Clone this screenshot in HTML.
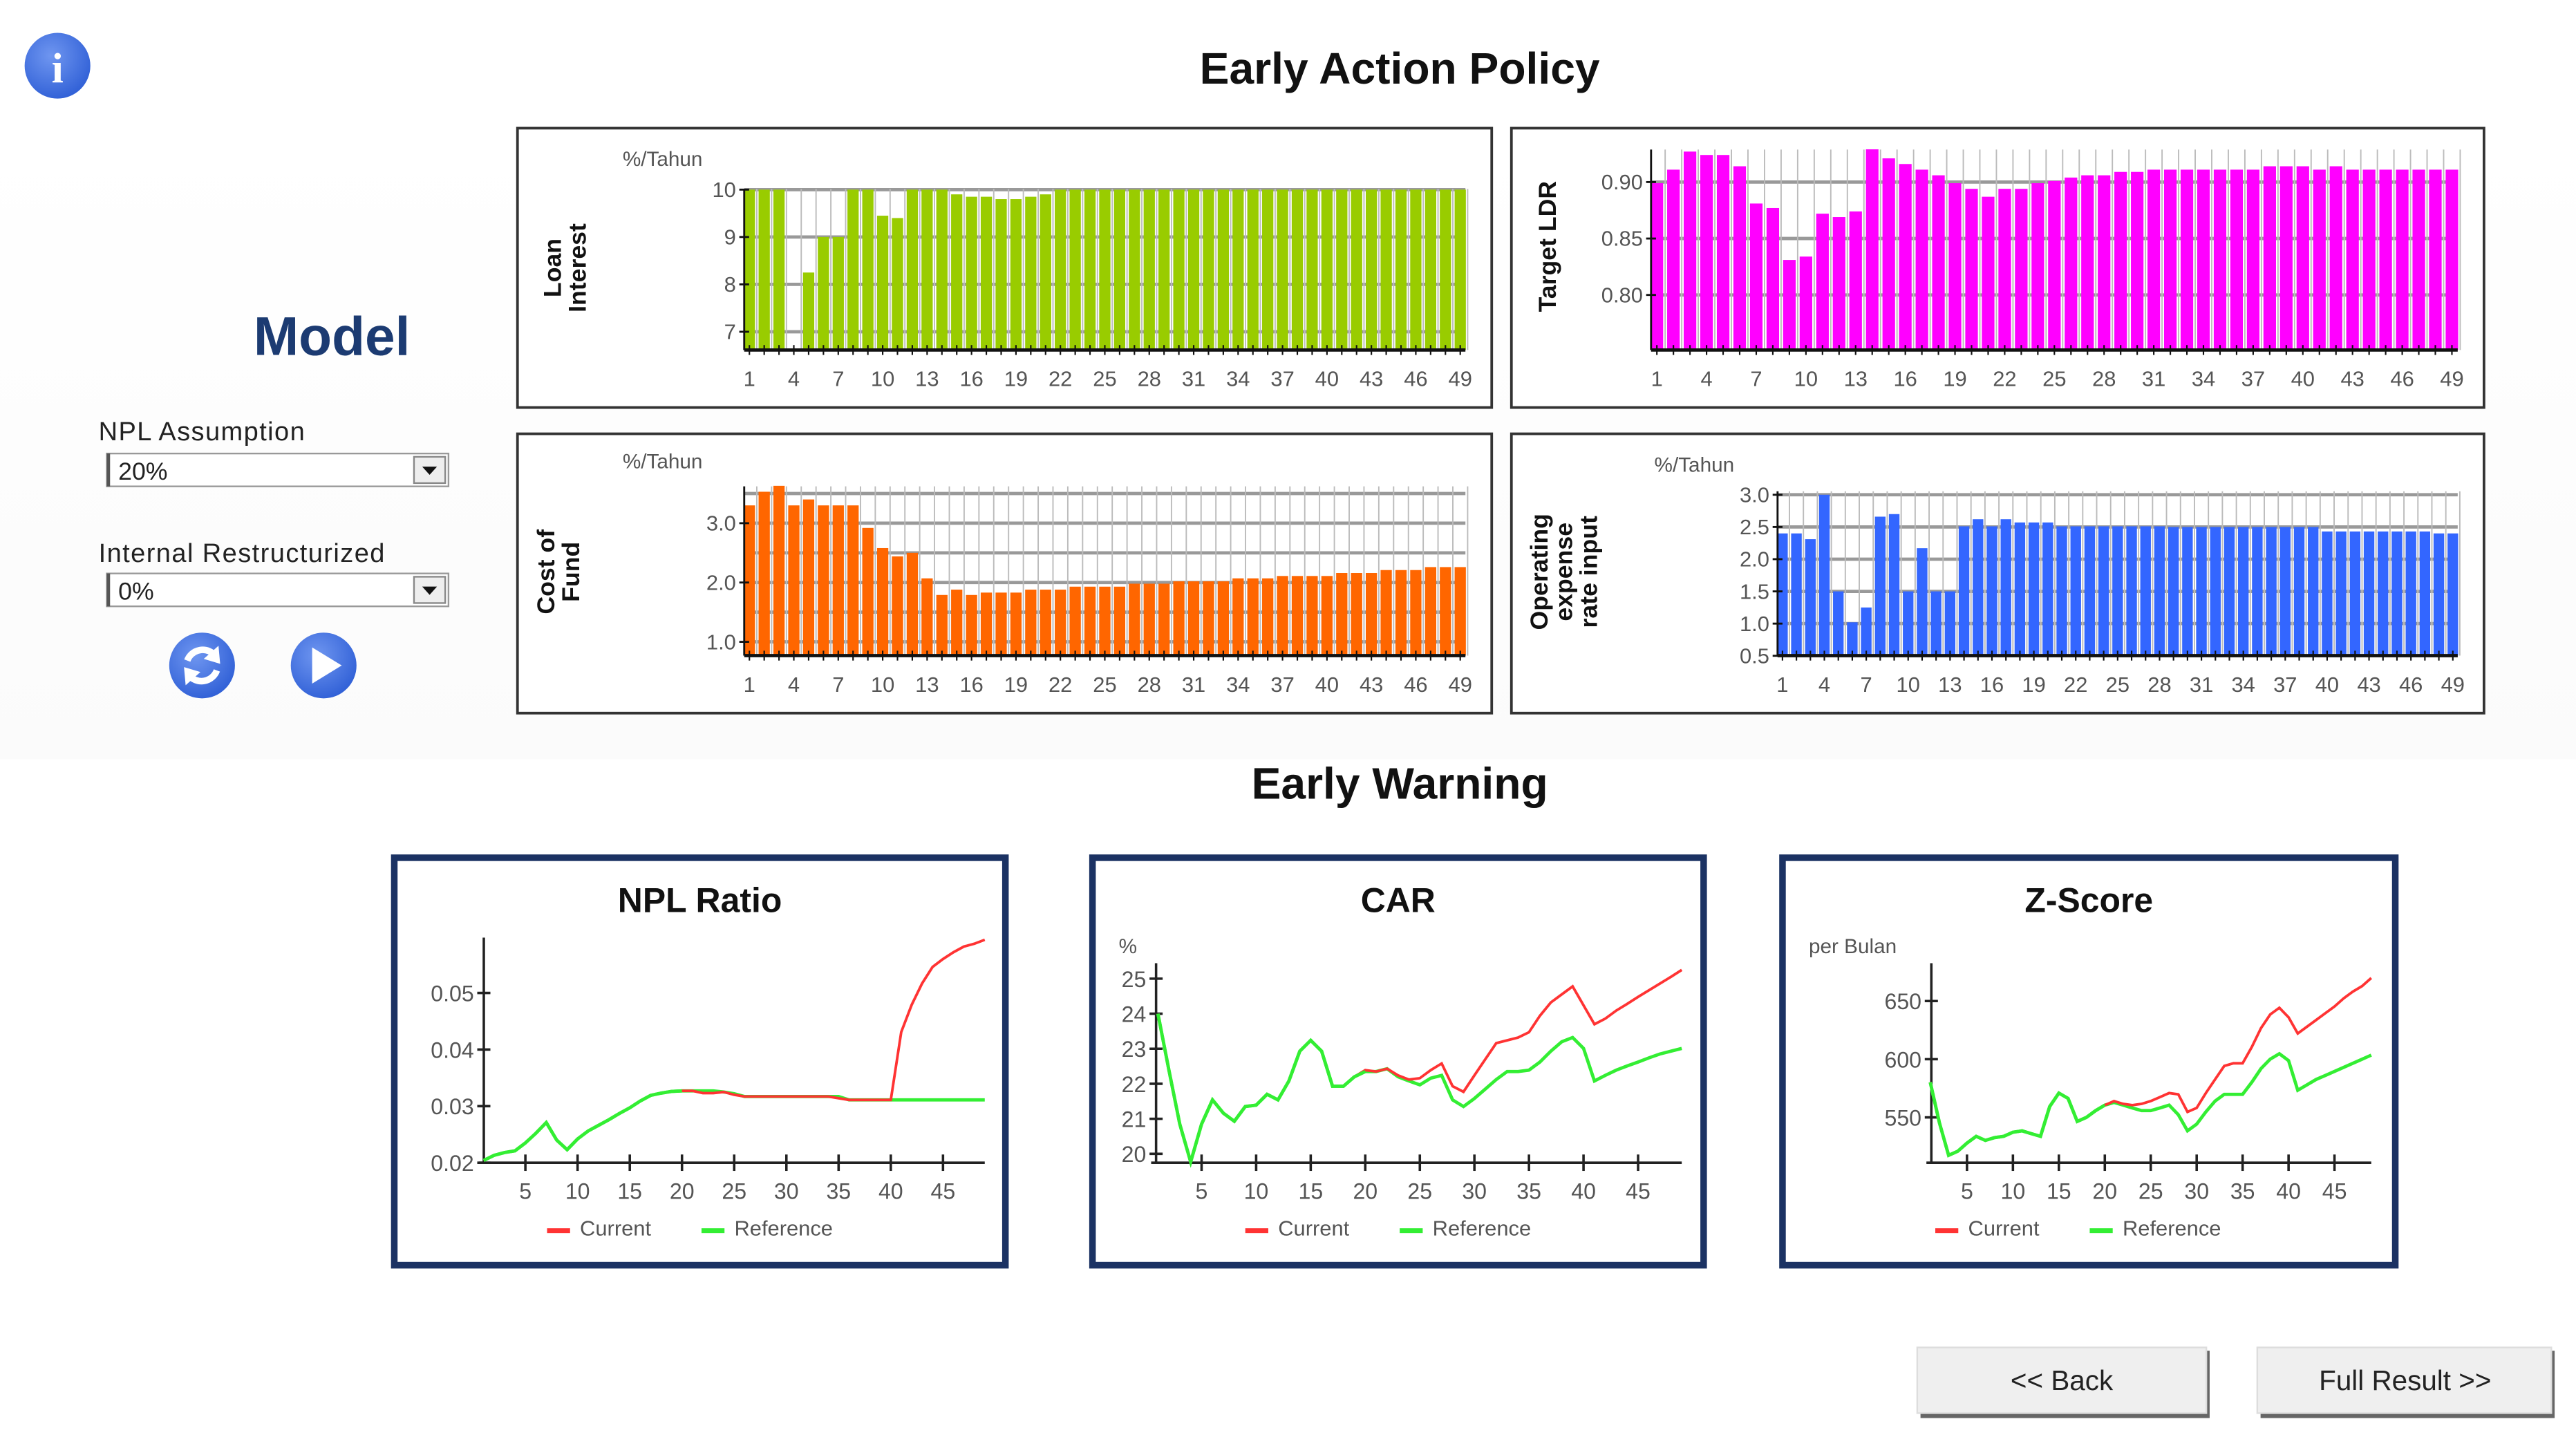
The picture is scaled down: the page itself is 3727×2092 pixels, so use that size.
<!DOCTYPE html>
<html><head><meta charset="utf-8"><title>Early Action Policy</title>
<style>
html,body{margin:0;padding:0;background:#fff;}
svg{display:block;font-family:"Liberation Sans",sans-serif;}
</style></head>
<body>
<svg id="root" width="3727" height="2092" viewBox="0 0 1568 880" preserveAspectRatio="none" xmlns="http://www.w3.org/2000/svg">
<defs>
<radialGradient id="btnG" cx="40%" cy="35%" r="70%"><stop offset="0" stop-color="#6f96f0"/><stop offset="1" stop-color="#2f5fd6"/></radialGradient>
<linearGradient id="panelBg" x1="0" y1="0" x2="0" y2="1"><stop offset="0" stop-color="#ffffff"/><stop offset="1" stop-color="#fbfbfb"/></linearGradient>
</defs>
<rect x="0" y="0" width="1568" height="880" fill="#ffffff"/>
<rect x="0" y="82" width="1568" height="380" fill="url(#panelBg)"/>

<g>
<circle cx="35" cy="40" r="20" fill="url(#btnG)"/>
<text x="35" y="50" text-anchor="middle" font-family="Liberation Serif" font-weight="bold" font-size="26" fill="#fff">i</text>
</g>

<text x="852" y="51" text-anchor="middle" font-size="27" font-weight="bold" fill="#111">Early Action Policy</text>
<text x="202" y="216" text-anchor="middle" font-size="33" font-weight="bold" fill="#1c3b72">Model</text>

<text x="60" y="268" font-size="16" fill="#222" letter-spacing="0.6">NPL Assumption</text>
<g>
<rect x="65" y="276" width="208" height="20" fill="#fff" stroke="#999" stroke-width="1"/>
<line x1="66" y1="276" x2="66" y2="296" stroke="#555" stroke-width="2"/>
<text x="72" y="292" font-size="15" fill="#222">20%</text>
<rect x="252" y="278" width="19" height="16" fill="#eee" stroke="#888" stroke-width="1"/>
<polygon points="257,284 266,284 261.5,289" fill="#111"/>
</g>
<text x="60" y="342" font-size="16" fill="#222" letter-spacing="0.6">Internal Restructurized</text>
<g>
<rect x="65" y="349" width="208" height="20" fill="#fff" stroke="#999" stroke-width="1"/>
<line x1="66" y1="349" x2="66" y2="369" stroke="#555" stroke-width="2"/>
<text x="72" y="365" font-size="15" fill="#222">0%</text>
<rect x="252" y="351" width="19" height="16" fill="#eee" stroke="#888" stroke-width="1"/>
<polygon points="257,357 266,357 261.5,362" fill="#111"/>
</g>
<g>
<circle cx="123" cy="405" r="20" fill="url(#btnG)"/>
<path d="M114,402 A10,10 0 0 1 131,399" fill="none" stroke="#fff" stroke-width="4"/>
<polygon points="133,393 134,404 124,401" fill="#fff"/>
<path d="M132,408 A10,10 0 0 1 115,411" fill="none" stroke="#fff" stroke-width="4"/>
<polygon points="113,417 112,406 122,409" fill="#fff"/>
</g>
<g>
<circle cx="197" cy="405" r="20" fill="url(#btnG)"/>
<polygon points="190,394 190,416 208,405" fill="#fff"/>
</g>

<text x="852" y="486" text-anchor="middle" font-size="27" font-weight="bold" fill="#111">Early Warning</text>

<g>
<rect x="1169" y="822" width="176" height="41" fill="#666"/>
<rect x="1167" y="820" width="176" height="40" fill="#efefef" stroke="#ddd" stroke-width="1"/>
<text x="1255" y="846" text-anchor="middle" font-size="17" fill="#222">&lt;&lt; Back</text>
</g>
<g>
<rect x="1376" y="822" width="179" height="41" fill="#666"/>
<rect x="1374" y="820" width="179" height="40" fill="#efefef" stroke="#ddd" stroke-width="1"/>
<text x="1464" y="846" text-anchor="middle" font-size="17" fill="#222">Full Result &gt;&gt;</text>
</g>

<g id="charts"></g>
</svg>

<script>
// ---------- Bar chart data ----------
const barCats = [];
for (let i = 1; i <= 49; i++) barCats.push(i);
const barTickLabels = [1,4,7,10,13,16,19,22,25,28,31,34,37,40,43,46,49];

const loanInterest = [10,10,10,6.6,8.25,9,9,10,10,9.45,9.4,10,10,10,9.9,9.85,9.85,9.8,9.8,9.85,9.9,10,10,10,10,10,10,10,10,10,10,10,10,10,10,10,10,10,10,10,10,10,10,10,10,10,10,10,10];
const loanTicks = [7,8,9,10];
const loanTickLabels = ["7","8","9","10"];

const targetLdr = [0.899,0.911,0.927,0.924,0.924,0.914,0.881,0.877,0.831,0.834,0.872,0.869,0.874,0.929,0.921,0.916,0.911,0.906,0.899,0.894,0.887,0.894,0.894,0.899,0.901,0.904,0.906,0.906,0.909,0.909,0.911,0.911,0.911,0.911,0.911,0.911,0.911,0.914,0.914,0.914,0.911,0.914,0.911,0.911,0.911,0.911,0.911,0.911,0.911];
const ldrTicks = [0.80,0.85,0.90];
const ldrTickLabels = ["0.80","0.85","0.90"];

const costOfFund = [3.30,3.53,3.63,3.30,3.40,3.30,3.30,3.30,2.92,2.58,2.44,2.50,2.07,1.79,1.88,1.79,1.83,1.83,1.83,1.88,1.88,1.88,1.93,1.93,1.93,1.93,1.98,1.98,1.98,2.02,2.02,2.02,2.02,2.07,2.07,2.07,2.11,2.11,2.11,2.11,2.16,2.16,2.16,2.21,2.21,2.21,2.26,2.26,2.26];
const cofGrid = [1.0,1.5,2.0,2.5,3.0,3.5];
const cofTicks = [1.0,2.0,3.0];
const cofTickLabels = ["1.0","2.0","3.0"];

const opexRate = [2.40,2.40,2.31,3.0,1.50,1.02,1.25,2.66,2.70,1.50,2.17,1.50,1.50,2.51,2.62,2.51,2.62,2.57,2.57,2.57,2.51,2.51,2.51,2.51,2.51,2.51,2.51,2.51,2.50,2.50,2.50,2.50,2.50,2.50,2.50,2.50,2.50,2.50,2.50,2.43,2.43,2.43,2.43,2.43,2.43,2.43,2.43,2.40,2.40];
const opexTicks = [0.5,1.0,1.5,2.0,2.5,3.0];
const opexTickLabels = ["0.5","1.0","1.5","2.0","2.5","3.0"];

// ---------- Line chart data ----------
const timeSteps = [];
for (let i = 1; i <= 49; i++) timeSteps.push(i);
const lineXTicks = [5,10,15,20,25,30,35,40,45];

const nplReference = [0.0204,0.0213,0.0218,0.0221,0.0235,0.0252,0.0271,0.0240,0.0223,0.0242,0.0256,0.0266,0.0276,0.0287,0.0297,0.0309,0.0319,0.0323,0.0326,0.0327,0.0327,0.0327,0.0327,0.0325,0.0322,0.0317,0.0317,0.0317,0.0317,0.0317,0.0317,0.0317,0.0317,0.0317,0.0317,0.0311,0.0311,0.0311,0.0311,0.0311,0.0311,0.0311,0.0311,0.0311,0.0311,0.0311,0.0311,0.0311,0.0311];
const nplCurrent = [0.0204,0.0213,0.0218,0.0221,0.0235,0.0252,0.0271,0.0240,0.0223,0.0242,0.0256,0.0266,0.0276,0.0287,0.0297,0.0309,0.0319,0.0323,0.0326,0.0327,0.0327,0.0323,0.0323,0.0325,0.0320,0.0317,0.0317,0.0317,0.0317,0.0317,0.0317,0.0317,0.0317,0.0317,0.0314,0.0311,0.0311,0.0311,0.0311,0.0311,0.0431,0.0479,0.0517,0.0546,0.0560,0.0572,0.0582,0.0587,0.0594];
const nplTicks = [0.02,0.03,0.04,0.05];
const nplTickLabels = ["0.02","0.03","0.04","0.05"];

const carReference = [24.0,22.4,20.85,19.77,20.85,21.54,21.16,20.93,21.35,21.39,21.70,21.54,22.08,22.93,23.24,22.93,21.93,21.93,22.2,22.35,22.35,22.43,22.2,22.08,21.97,22.16,22.24,21.54,21.35,21.58,21.85,22.12,22.35,22.35,22.39,22.62,22.93,23.2,23.32,23.01,22.08,22.24,22.39,22.51,22.62,22.74,22.85,22.93,23.01];
const carCurrent = [24.0,22.4,20.85,19.77,20.85,21.54,21.16,20.93,21.35,21.39,21.70,21.54,22.08,22.93,23.24,22.93,21.93,21.93,22.2,22.39,22.35,22.43,22.24,22.12,22.16,22.39,22.58,21.93,21.77,22.24,22.7,23.16,23.24,23.32,23.47,23.94,24.32,24.55,24.78,24.24,23.70,23.86,24.09,24.28,24.48,24.67,24.86,25.05,25.25];
const carTicks = [20,21,22,23,24,25];
const carTickLabels = ["20","21","22","23","24","25"];

const zReference = [580.2,545.3,517.4,520.9,527.9,533.7,530.2,532.6,533.7,537.2,538.4,536,533.7,559.3,570.9,566.3,546.5,550,555.8,560.5,562.8,560.5,558.1,555.8,555.8,558.1,560.5,552.3,538.4,544.2,554.7,564,569.8,569.8,569.8,580.2,591.9,600,604.7,598.8,573.3,577.9,582.6,586,589.5,593,596.5,600,603.5];
const zCurrent = [580.2,545.3,517.4,520.9,527.9,533.7,530.2,532.6,533.7,537.2,538.4,536,533.7,559.3,570.9,566.3,546.5,550,555.8,560.5,564,561.6,560.5,561.6,564,567.4,570.9,569.8,554.7,558.1,570.9,582.6,594.2,596.5,596.5,610.5,626.7,638.4,644.2,636,622.1,627.9,633.7,639.5,645.3,652.3,658.1,662.8,669.8];
const zTicks = [550,600,650];
const zTickLabels = ["550","600","650"];

// ---------- helpers ----------
const NS = "http://www.w3.org/2000/svg";
const host = document.getElementById('charts');
function mk(tag, attrs, parent) {
  const e = document.createElementNS(NS, tag);
  for (const k in attrs) e.setAttribute(k, attrs[k]);
  (parent || host).appendChild(e);
  return e;
}
function linScale(v1, p1, v2, p2) { return v => p1 + (v - v1) * (p2 - p1) / (v2 - v1); }

function barChart(cfg) {
  const g = mk('g', {});
  
  
  const frame = mk('rect', {x: cfg.box[0], y: cfg.box[1], width: cfg.box[2], height: cfg.box[3], fill: '#fff', stroke: '#333', 'stroke-width': 1.6}, g);
  
  
  const y = linScale(cfg.ref[0], cfg.ref[1], cfg.ref[2], cfg.ref[3]);
  const n = cfg.cats.length;
  const step = (cfg.x1 - cfg.x0) / (n - 0.3);
  const x = i => cfg.x0 + step * (i + 0.35);
  const base = cfg.base;
  cfg.grid.forEach(v => {
    const gl = mk('line', {x1: cfg.x0, x2: cfg.x1, y1: y(v), y2: y(v), stroke: '#999', 'stroke-width': 2}, g);
    
    
  });
  cfg.cats.forEach((c, i) => {
    const vl = mk('line', {x1: x(i) + step / 2, x2: x(i) + step / 2, y1: cfg.top, y2: base, stroke: '#bbb', 'stroke-width': 0.8}, g);
    
    
  });
  cfg.values.forEach((v, i) => {
    const yy = Math.min(y(v), base);
    const b = mk('rect', {x: x(i) - step * 0.38, y: yy, width: step * 0.76, height: Math.max(0, base - yy), fill: cfg.color}, g);
    
    
  });
  const ya = mk('line', {x1: cfg.x0, x2: cfg.x0, y1: cfg.top, y2: base, stroke: '#111', 'stroke-width': 1.2}, g);
  
  
  const xa = mk('line', {x1: cfg.x0, x2: cfg.x1, y1: base, y2: base, stroke: '#111', 'stroke-width': 2}, g);
  
  
  cfg.cats.forEach((c, i) => {
    const t = mk('line', {x1: x(i), x2: x(i), y1: base - 3, y2: base + 3, stroke: '#111', 'stroke-width': 0.9}, g);
    
    
  });
  cfg.ticks.forEach((v, i) => {
    const tk = mk('line', {x1: cfg.x0 - 3, x2: cfg.x0 + 3, y1: y(v), y2: y(v), stroke: '#111', 'stroke-width': 1.2}, g);
    
    
    const tl = mk('text', {x: cfg.x0 - 5, y: y(v) + 4.5, 'text-anchor': 'end', 'font-size': 13, fill: '#555'}, g);
    tl.textContent = cfg.tickLabels[i];
    
    
  });
  barTickLabels.forEach(lab => {
    const i = cfg.cats.indexOf(lab);
    const tl = mk('text', {x: x(i), y: base + 22, 'text-anchor': 'middle', 'font-size': 13, fill: '#555'}, g);
    tl.textContent = String(lab);
    
    
  });
  if (cfg.unit) {
    const u = mk('text', {x: cfg.unit[0], y: cfg.unit[1], 'font-size': 12.5, fill: '#555'}, g);
    u.textContent = '%/Tahun';
    
    
  }
  const lines = cfg.ylabel;
  const lh = 15;
  lines.forEach((ln, k) => {
    const cx = cfg.ylabelPos[0] + (k - (lines.length - 1) / 2) * lh;
    const t = mk('text', {x: cx, y: cfg.ylabelPos[1], 'text-anchor': 'middle', 'font-size': 15, 'font-weight': 'bold', fill: '#111', transform: 'rotate(-90 ' + (cx) + ' ' + cfg.ylabelPos[1] + ')'}, g);
    t.textContent = ln;
    
    
  });
}

barChart({name: 'loan-interest-chart', box: [315, 78, 593, 170], cats: barCats, values: loanInterest, color: '#99cc00',
  x0: 453, x1: 892, top: 115, base: 213, ref: [10, 115.4, 7, 201.9], grid: loanTicks, ticks: loanTicks, tickLabels: loanTickLabels,
  unit: [379, 101], ylabel: ['Loan', 'Interest'], ylabelPos: [349, 163]});
barChart({name: 'target-ldr-chart', box: [920, 78, 592, 170], cats: barCats, values: targetLdr, color: '#ff00ff',
  x0: 1005, x1: 1496, top: 91, base: 213, ref: [0.90, 110.8, 0.80, 179.5], grid: ldrTicks, ticks: ldrTicks, tickLabels: ldrTickLabels,
  unit: null, ylabel: ['Target LDR'], ylabelPos: [947, 150]});
barChart({name: 'cost-of-fund-chart', box: [315, 264, 593, 170], cats: barCats, values: costOfFund, color: '#ff6600',
  x0: 453, x1: 892, top: 296, base: 399, ref: [3.0, 318.4, 1.0, 390.6], grid: cofGrid, ticks: cofTicks, tickLabels: cofTickLabels,
  unit: [379, 285], ylabel: ['Cost of', 'Fund'], ylabelPos: [345, 348]});
barChart({name: 'operating-expense-chart', box: [920, 264, 592, 170], cats: barCats, values: opexRate, color: '#3366ff',
  x0: 1082, x1: 1496, top: 299, base: 399, ref: [3.0, 301.1, 0.5, 399.1], grid: opexTicks, ticks: opexTicks, tickLabels: opexTickLabels,
  unit: [1007, 287], ylabel: ['Operating', 'expense', 'rate input'], ylabelPos: [957, 348]});

function lineChart(cfg) {
  const g = mk('g', {});
  
  
  const fr = mk('rect', {x: cfg.box[0], y: cfg.box[1], width: cfg.box[2], height: cfg.box[3], fill: '#fff', stroke: '#1b3263', 'stroke-width': 4}, g);
  
  
  const cx = cfg.box[0] + cfg.box[2] / 2;
  const tt = mk('text', {x: cx, y: 555, 'text-anchor': 'middle', 'font-size': 21, 'font-weight': 'bold', fill: '#111'}, g);
  tt.textContent = cfg.title;
  
  
  const x = linScale(5, cfg.x5, 45, cfg.x45);
  const y = linScale(cfg.ref[0], cfg.ref[1], cfg.ref[2], cfg.ref[3]);
  const base = 707.6;
  const ya = mk('line', {x1: cfg.ax, x2: cfg.ax, y1: cfg.axTop, y2: base, stroke: '#222', 'stroke-width': 1.5}, g);
  
  
  const xa = mk('line', {x1: cfg.ax - 3, x2: x(49), y1: base, y2: base, stroke: '#222', 'stroke-width': 1.5}, g);
  
  
  lineXTicks.forEach(t => {
    const tk = mk('line', {x1: x(t), x2: x(t), y1: base - 5, y2: base + 5, stroke: '#222', 'stroke-width': 1.5}, g);
    
    
    const tl = mk('text', {x: x(t), y: base + 22, 'text-anchor': 'middle', 'font-size': 13.5, fill: '#555'}, g);
    tl.textContent = String(t);
    
    
  });
  cfg.ticks.forEach((v, i) => {
    const tk = mk('line', {x1: cfg.ax - 4, x2: cfg.ax + 4, y1: y(v), y2: y(v), stroke: '#222', 'stroke-width': 1.5}, g);
    
    
    const tl = mk('text', {x: cfg.ax - 6, y: y(v) + 5, 'text-anchor': 'end', 'font-size': 13.5, fill: '#555'}, g);
    tl.textContent = cfg.tickLabels[i];
    
    
  });
  if (cfg.unit) {
    const u = mk('text', {x: cfg.unit[0], y: cfg.unit[1], 'font-size': 12.5, fill: '#555'}, g);
    u.textContent = cfg.unit[2];
    
    
  }
  const pts = arr => arr.map((v, i) => x(timeSteps[i]).toFixed(2) + ',' + y(v).toFixed(2)).join(' ');
  const ref = mk('polyline', {points: pts(cfg.reference), fill: 'none', stroke: '#33ee33', 'stroke-width': 2}, g);
  
  
  const cur = mk('polyline', {points: pts(cfg.current), fill: 'none', stroke: '#ff3333', 'stroke-width': 1.6}, g);
  
  
  const ref2 = mk('polyline', {points: pts(cfg.reference.slice(0, 20)), fill: 'none', stroke: '#33ee33', 'stroke-width': 2}, g);
  
  
  const lx = cfg.box[0] + 93;
  const l1 = mk('line', {x1: lx, x2: lx + 14, y1: 749, y2: 749, stroke: '#ff3333', 'stroke-width': 3}, g);
  
  
  const t1 = mk('text', {x: lx + 20, y: 752, 'font-size': 13, fill: '#555'}, g);
  t1.textContent = 'Current';
  
  
  const l2 = mk('line', {x1: lx + 94, x2: lx + 108, y1: 749, y2: 749, stroke: '#33ee33', 'stroke-width': 3}, g);
  
  
  const t2 = mk('text', {x: lx + 114, y: 752, 'font-size': 13, fill: '#555'}, g);
  t2.textContent = 'Reference';
  
  
}

lineChart({name: 'npl-ratio-chart', title: 'NPL Ratio', box: [240, 522, 372, 248], ax: 294.5, x5: 319.8, x45: 574, axTop: 570.6,
  ref: [0.02, 707.6, 0.05, 604.3], ticks: nplTicks, tickLabels: nplTickLabels, reference: nplReference, current: nplCurrent, unit: null});
lineChart({name: 'car-chart', title: 'CAR', box: [665, 522, 372, 248], ax: 703.7, x5: 731.4, x45: 997.1, axTop: 586.2,
  ref: [20, 702.2, 25, 595.6], ticks: carTicks, tickLabels: carTickLabels, reference: carReference, current: carCurrent, unit: [681, 580, '%']});
lineChart({name: 'z-score-chart', title: 'Z-Score', box: [1085, 522, 373, 248], ax: 1175.6, x5: 1197.3, x45: 1421, axTop: 586.2,
  ref: [650, 609.2, 550, 680], ticks: zTicks, tickLabels: zTickLabels, reference: zReference, current: zCurrent, unit: [1101, 580, 'per Bulan']});
</script>
</body></html>
